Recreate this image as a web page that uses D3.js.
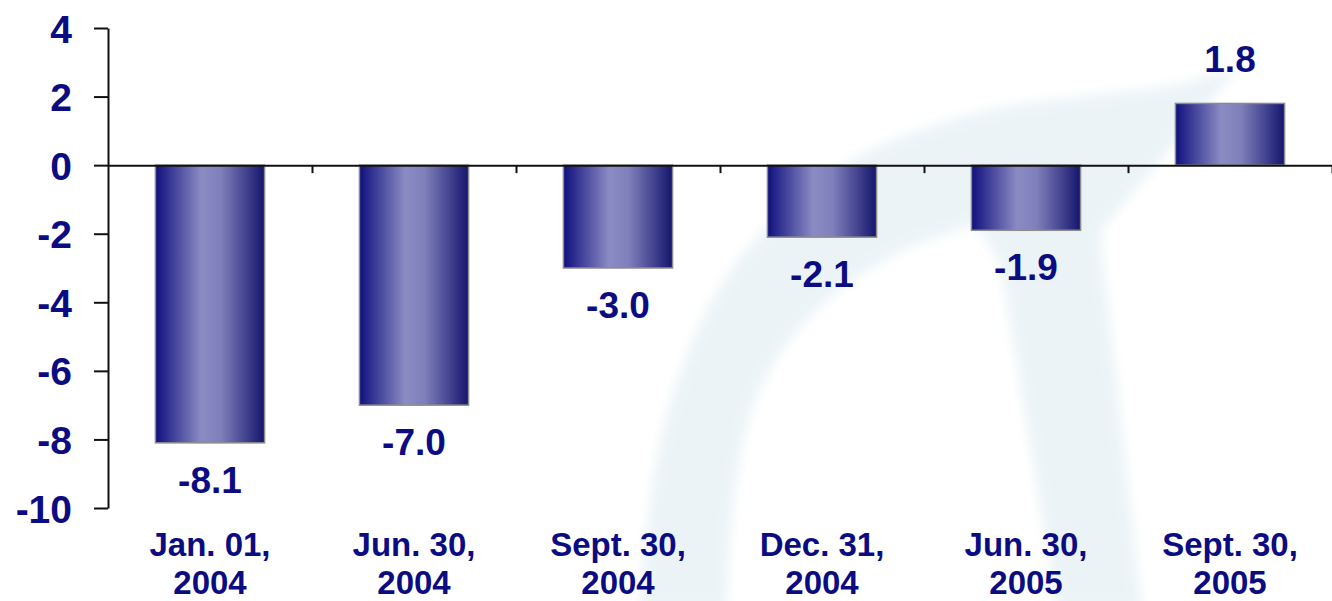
<!DOCTYPE html>
<html>
<head>
<meta charset="utf-8">
<script src="https://cdn.jsdelivr.net/npm/d3@7"></script>
<style>
  body { margin: 0; background: #fff; }
  svg { display: block; }
  text { font-family: Arial, "Liberation Sans", sans-serif; font-weight: bold; fill: #0c0c82; }
</style>
</head>
<body>
<svg id="chart" width="1332" height="601"></svg>
<script>
var categories = [["Jan. 01,", "2004"], ["Jun. 30,", "2004"], ["Sept. 30,", "2004"],
                  ["Dec. 31,", "2004"], ["Jun. 30,", "2005"], ["Sept. 30,", "2005"]];
var values = [-8.1, -7.0, -3.0, -2.1, -1.9, 1.8];
var yTicks = [-10, -8, -6, -4, -2, 0, 2, 4];

var width = 1332, height = 601;
var svg = d3.select("#chart");

var defs = svg.append("defs");
defs.append("filter").attr("id", "soft")
    .attr("x", "-10%").attr("y", "-10%").attr("width", "120%").attr("height", "120%")
    .append("feGaussianBlur").attr("stdDeviation", 6);

var grad = defs.append("linearGradient").attr("id", "barGrad")
    .attr("x1", "0%").attr("x2", "100%").attr("y1", "0%").attr("y2", "0%");
grad.append("stop").attr("offset", "0%").attr("stop-color", "#10107e");
grad.append("stop").attr("offset", "42%").attr("stop-color", "#8b8bc4");
grad.append("stop").attr("offset", "60%").attr("stop-color", "#7f7fbb");
grad.append("stop").attr("offset", "100%").attr("stop-color", "#15156e");

// faint logo watermark behind the chart
var outerEdge = [[640,610],[648,520],[662,433],[685,360],[712,300],[750,245],[800,195],[871,150],[980,112],[1083,96],[1180,84],[1240,66]];
var innerEdge = [[975,224],[900,252],[840,290],[790,340],[755,400],[738,470],[730,540],[727,610]];
var bandEdge = [[1240,66],[1100,232],[1142,610],[1057,610],[1000,262]];
var wmLine = d3.line().curve(d3.curveLinear);
var smooth = d3.line().curve(d3.curveCatmullRom);
var wmPath = smooth(outerEdge) + wmLine(bandEdge).replace("M", "L") + smooth(innerEdge).replace("M", "L") + "Z";
svg.append("path")
    .attr("d", wmPath)
    .attr("fill", "#e8f2f6")
    .attr("opacity", 0.85)
    .attr("filter", "url(#soft)");

var y = d3.scaleLinear().domain([-10, 4]).range([508, 28]);
var x = d3.scaleBand().domain(d3.range(categories.length))
    .range([108, 1332]).paddingInner(0.465).paddingOuter(0.2325);
var xIdx = d3.scaleLinear().domain([0, categories.length]).range([108, 1332]);

// bars
svg.selectAll("rect.bar")
    .data(values)
    .enter().append("rect")
    .attr("class", "bar")
    .attr("x", function(d, i){ return x(i); })
    .attr("width", x.bandwidth())
    .attr("y", function(d){ return y(Math.max(0, d)); })
    .attr("height", function(d){ return Math.abs(y(d) - y(0)); })
    .attr("fill", "url(#barGrad)")
    .attr("stroke", "#8c8c8c")
    .attr("stroke-width", 1.5);

// y axis
var yAxis = svg.append("g")
    .attr("transform", "translate(108,0)")
    .call(d3.axisLeft(y).tickValues(yTicks).tickSize(14).tickSizeOuter(0).tickPadding(22)
        .tickFormat(function(d){ return String(d); }));
yAxis.selectAll("text").style("font-size", "39px").attr("dy", "0.36em");

// x axis at zero
svg.append("g")
    .attr("transform", "translate(0," + y(0) + ")")
    .call(d3.axisBottom(xIdx).tickValues(d3.range(1, categories.length + 1)).tickSize(8).tickSizeOuter(0).tickFormat(""));

svg.selectAll(".domain, .tick line").attr("stroke", "#111").attr("stroke-width", 2);

// value labels
svg.selectAll("text.val")
    .data(values)
    .enter().append("text")
    .attr("class", "val")
    .attr("x", function(d, i){ return x(i) + x.bandwidth() / 2; })
    .attr("y", function(d){ return d < 0 ? y(d) + 50 : y(d) - 31; })
    .attr("text-anchor", "middle")
    .style("font-size", "37px")
    .text(function(d){ return d.toFixed(1); });

// category labels
var cats = svg.selectAll("text.cat")
    .data(categories)
    .enter().append("text")
    .attr("class", "cat")
    .attr("text-anchor", "middle")
    .style("font-size", "33px");
cats.append("tspan")
    .attr("x", function(d, i){ return x(i) + x.bandwidth() / 2; })
    .attr("y", 556)
    .text(function(d){ return d[0]; });
cats.append("tspan")
    .attr("x", function(d, i){ return x(i) + x.bandwidth() / 2; })
    .attr("y", 594)
    .text(function(d){ return d[1]; });
</script>
</body>
</html>
